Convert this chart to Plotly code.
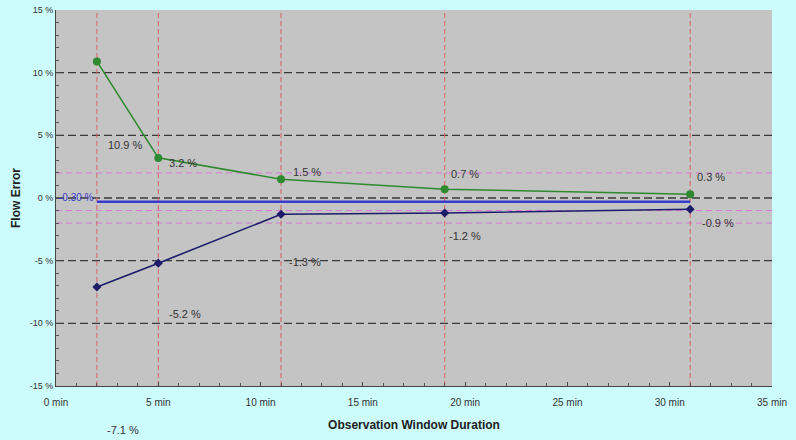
import plotly.graph_objects as go

# ---- data ----
durations = [2, 5, 11, 19, 31]                 # minutes
upper_err = [10.9, 3.2, 1.5, 0.7, 0.3]         # %
lower_err = [-7.1, -5.2, -1.3, -1.2, -0.9]     # %
mean_bias = -0.30                              # %
band_lines = [2, -1, -2]                       # % (pink dashed)
grid_lines = [-10, -5, 0, 5, 10]               # % (black dashed)
y_ticks = [-15, -10, -5, 0, 5, 10, 15]
x_ticks = [0, 5, 10, 15, 20, 25, 30, 35]

# label pixel offsets (style)
up_shift = [(28, -84), (25, -5), (26, 7), (20, 15), (21, 17)]
lo_shift = [(26, -143), (27, -51), (24, -48), (20, -23), (28, -14)]

FONT = "Liberation Sans, Arial, sans-serif"
fig = go.Figure()

fig.add_trace(go.Scatter(x=[durations[0], durations[-1]], y=[mean_bias, mean_bias],
                         mode="lines", line=dict(color="#3a3acc", width=2.5),
                         hoverinfo="skip", showlegend=False))
fig.add_trace(go.Scatter(x=durations, y=upper_err, mode="lines+markers",
                         line=dict(color="#2f8a2f", width=1.6),
                         marker=dict(color="#2f8a2f", size=8, symbol="circle"),
                         showlegend=False))
fig.add_trace(go.Scatter(x=durations, y=lower_err, mode="lines+markers",
                         line=dict(color="#1c1c6a", width=1.6),
                         marker=dict(color="#1c1c6a", size=7, symbol="diamond"),
                         showlegend=False))

shapes = []
for g in grid_lines:
    shapes.append(dict(type="line", xref="paper", x0=0, x1=1, yref="y", y0=g, y1=g,
                       line=dict(color="#3a3a3a", width=1.4, dash="8px,4px"), layer="below"))
for b in band_lines:
    shapes.append(dict(type="line", xref="paper", x0=0, x1=1, yref="y", y0=b, y1=b,
                       line=dict(color="#d77ad7", width=1, dash="6px,4px"), layer="below"))
for d in durations:
    shapes.append(dict(type="line", xref="x", x0=d, x1=d, yref="paper", y0=0, y1=1,
                       line=dict(color="#d86060", width=1, dash="5px,3px"), layer="below"))

ann = []
for x, y, (dx, dy) in zip(durations, upper_err, up_shift):
    ann.append(dict(x=x, y=y, text=f"{y:.1f} %", showarrow=False, xshift=dx, yshift=dy,
                    font=dict(size=11, color="#333333", family=FONT)))
for x, y, (dx, dy) in zip(durations, lower_err, lo_shift):
    ann.append(dict(x=x, y=y, text=f"{y:.1f} %", showarrow=False, xshift=dx, yshift=dy,
                    font=dict(size=11, color="#333333", family=FONT)))
ann.append(dict(x=0, y=mean_bias, text=f"{mean_bias:.2f} %", showarrow=False, xanchor="left",
                xshift=1, yshift=4, font=dict(size=10, color="#3a3acc", family=FONT)))

fig.update_layout(
    width=796, height=440,
    margin=dict(l=56, r=24, t=10, b=54, autoexpand=False),
    paper_bgcolor="#ccfcfc", plot_bgcolor="#c4c4c4",
    shapes=shapes, annotations=ann,
    font=dict(family=FONT, size=10, color="#333333"),
    xaxis=dict(range=[0, 35], tickvals=x_ticks, ticktext=[f"{t} min" for t in x_ticks],
               showgrid=False, zeroline=False, showline=True, linecolor="#444444",
               ticks="inside", ticklen=4, tickcolor="#444444", automargin=False,
               minor=dict(ticks="inside", ticklen=3, dtick=1, tickcolor="#555555"),
               ticklabelstandoff=7,
               title=dict(text="<b>Observation Window Duration</b>",
                          font=dict(size=12, color="#222222"), standoff=13),
               tickfont=dict(size=10, color="#333333")),
    yaxis=dict(range=[-15, 15], tickvals=y_ticks, ticktext=[f"{t} %" for t in y_ticks],
               showgrid=False, zeroline=False, showline=True, linecolor="#444444",
               ticks="inside", ticklen=4, tickcolor="#444444", automargin=False,
               minor=dict(ticks="inside", ticklen=3, dtick=1, tickcolor="#555555"),
               title=dict(text="<b>Flow Error</b>", font=dict(size=12, color="#222222"),
                          standoff=6),
               tickfont=dict(size=9, color="#333333")),
)

fig.write_html("out.html", config={"displayModeBar": False},
               post_script="document.body.style.margin='0';document.body.style.background='#ccfcfc';")
